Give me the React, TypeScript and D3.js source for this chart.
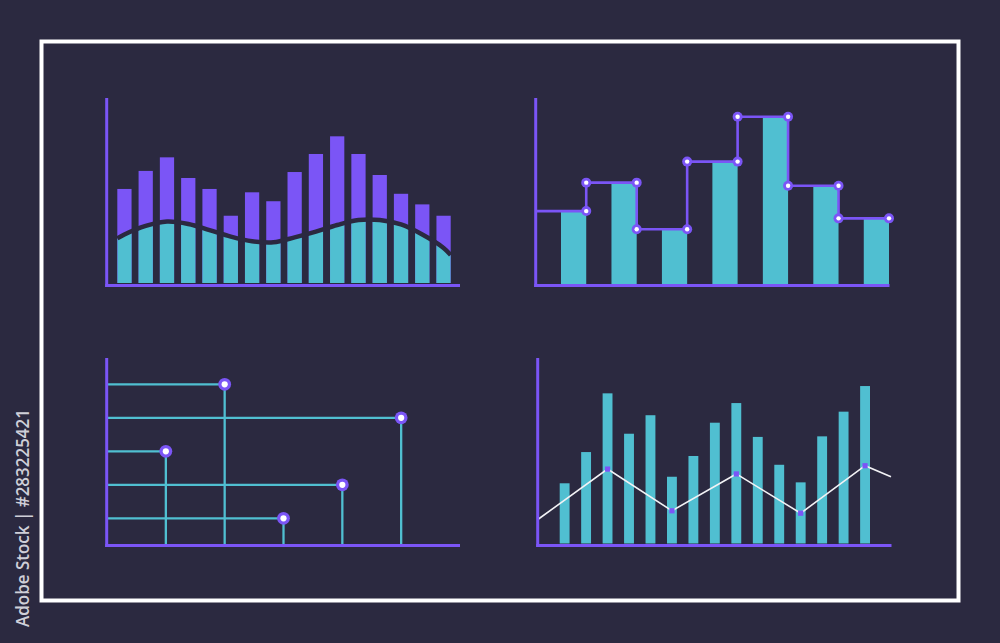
import React from 'react';
import * as d3 from 'd3';

const BG = '#2b2940';
const PURPLE = '#7b55f6';
const CYAN = '#50bfd1';

// Chart 1: bars with wave
const c1Bars = [51.1, 60.8, 68.1, 57, 51.1, 36.7, 49.3, 44.5, 60.2, 69.9, 79.4, 69.9, 58.6, 48.5, 42.8, 36.7];
const c1Wave = [26.6, 31.2, 33.6, 32.3, 29.0, 25.5, 23.0, 22.4, 25.1, 28.2, 31.7, 34.4, 34.4, 32.0, 26.6, 19.4];
const c1WaveStart = 24.5;
const c1WaveEnd = 15.6;

// Chart 2: step bars
const c2Bars = [39.2, 54.5, 29.4, 65.8, 89.9, 52.8, 35.3];

// Chart 3: lollipop grid
const c3Rows = [5, 4, 3, 2, 1];
const c3Vals = [2, 5, 1, 4, 3];

// Chart 4: bars with zigzag
const c4Bars = [33.0, 49.7, 81.1, 59.5, 69.4, 36.5, 47.6, 65.4, 75.9, 57.8, 42.9, 33.5, 58.1, 71.3, 85.0];
const c4LineStart = 13.9;
const c4LineVals = [40.6, 18.3, 38.0, 17.0, 42.4];
const c4LineBars = [2, 5, 8, 11, 14];
const c4LineEnd = 36.5;

function Axes({ x, yTop, yBase, xEnd }: { x: number; yTop: number; yBase: number; xEnd: number }) {
  return (
    <g stroke={PURPLE} strokeWidth={3} fill="none">
      <line x1={x} y1={yTop} x2={x} y2={yBase + 1.5} />
      <line x1={x - 1.5} y1={yBase} x2={xEnd} y2={yBase} />
    </g>
  );
}

function Chart1() {
  const idx = c1Bars.map((_, i) => i);
  const x = d3.scaleBand<number>().domain(idx).range([117.3, 450.7]).paddingInner(0.33).paddingOuter(0);
  const y = d3.scaleLinear().domain([0, 100]).range([284, 98]);
  const pts: [number, number][] = [
    [x(0)!, c1WaveStart],
    ...c1Wave.map((v, i) => [x(i)! + x.bandwidth() / 2, v] as [number, number]),
    [x(idx.length - 1)! + x.bandwidth(), c1WaveEnd],
  ];
  const curve = d3.curveCatmullRom.alpha(0.5);
  const line = d3.line<[number, number]>().x(d => d[0]).y(d => y(d[1])).curve(curve);
  const area = d3.area<[number, number]>().x(d => d[0]).y0(y(0)).y1(d => y(d[1])).curve(curve);
  return (
    <g>
      <defs>
        <clipPath id="c1clip">
          <path d={area(pts) || ''} />
        </clipPath>
      </defs>
      {c1Bars.map((v, i) => (
        <rect key={'p' + i} x={x(i)} y={y(v)} width={x.bandwidth()} height={y(0) - 1 - y(v)} fill={PURPLE} />
      ))}
      <g clipPath="url(#c1clip)">
        {c1Bars.map((v, i) => (
          <rect key={'c' + i} x={x(i)} y={y(v)} width={x.bandwidth()} height={y(0) - 1 - y(v)} fill={CYAN} />
        ))}
      </g>
      <path d={line(pts) || ''} fill="none" stroke={BG} strokeWidth={4.5} />
      <Axes x={106.7} yTop={98} yBase={285.5} xEnd={460} />
    </g>
  );
}

function Chart2() {
  const idx = c2Bars.map((_, i) => i);
  const x = d3.scaleBand<number>().domain(idx).range([561, 889]).paddingInner(0.5).paddingOuter(0);
  const y = d3.scaleLinear().domain([0, 100]).range([284, 98]);
  const gap = x.step() - x.bandwidth();
  const right = (i: number) => x(i)! + x.bandwidth();
  let d = '';
  c2Bars.forEach((v, i) => {
    const sx = i === 0 ? x(0)! - gap : right(i - 1);
    d += (i === 0 ? 'M' : 'L') + sx + ',' + y(v) + 'L' + right(i) + ',' + y(v);
  });
  const dots: [number, number][] = [];
  c2Bars.forEach((v, i) => {
    if (i > 0) dots.push([right(i - 1), y(v)]);
    dots.push([right(i), y(v)]);
  });
  return (
    <g>
      {c2Bars.map((v, i) => (
        <rect key={i} x={x(i)} y={y(v)} width={x.bandwidth()} height={y(0) - y(v)} fill={CYAN} />
      ))}
      <path d={d} fill="none" stroke={PURPLE} strokeWidth={2.6} />
      <Axes x={535.7} yTop={98} yBase={285.5} xEnd={889.5} />
      {dots.map((p, i) => (
        <g key={i}>
          <circle cx={p[0]} cy={p[1]} r={5} fill={PURPLE} />
          <circle cx={p[0]} cy={p[1]} r={2.2} fill="#ffffff" />
        </g>
      ))}
    </g>
  );
}

function Chart3() {
  const x = d3.scaleLinear().domain([0, 6]).range([107, 460]);
  const y = d3.scaleLinear().domain([1, 5]).range([518.3, 384.3]);
  const base = 545;
  return (
    <g>
      <g stroke={CYAN} strokeWidth={2.3}>
        {c3Rows.map((r, i) => (
          <line key={'h' + i} x1={x(0)} y1={y(r)} x2={x(c3Vals[i])} y2={y(r)} />
        ))}
        {c3Rows.map((r, i) => (
          <line key={'v' + i} x1={x(c3Vals[i])} y1={y(r)} x2={x(c3Vals[i])} y2={base} />
        ))}
      </g>
      <Axes x={106.7} yTop={358} yBase={545.5} xEnd={460} />
      {c3Rows.map((r, i) => (
        <g key={'c' + i}>
          <circle cx={x(c3Vals[i])} cy={y(r)} r={6.4} fill={PURPLE} />
          <circle cx={x(c3Vals[i])} cy={y(r)} r={3.1} fill="#ffffff" />
        </g>
      ))}
    </g>
  );
}

function Chart4() {
  const idx = c4Bars.map((_, i) => i);
  const x = d3.scaleBand<number>().domain(idx).range([559.7, 870]).paddingInner(0.54).paddingOuter(0);
  const y = d3.scaleLinear().domain([0, 100]).range([545, 358]);
  const pts: [number, number][] = [
    [538.5, c4LineStart],
    ...c4LineVals.map((v, i) => [x(c4LineBars[i])! + x.bandwidth() / 2, v] as [number, number]),
    [891, c4LineEnd],
  ];
  const line = d3.line<[number, number]>().x(d => d[0]).y(d => y(d[1]));
  return (
    <g>
      {c4Bars.map((v, i) => (
        <rect key={i} x={x(i)} y={y(v)} width={x.bandwidth()} height={y(0) - 1.5 - y(v)} fill={CYAN} />
      ))}
      <path d={line(pts) || ''} fill="none" stroke="#f2f2f5" strokeWidth={1.6} />
      {pts.slice(1, -1).map((p, i) => (
        <rect key={'m' + i} x={p[0] - 2.6} y={y(p[1]) - 2.6} width={5.2} height={5.2} fill={PURPLE} />
      ))}
      <Axes x={537.7} yTop={358} yBase={545.5} xEnd={891.5} />
    </g>
  );
}

export default function App() {
  return (
    <svg
      width={1000}
      height={643}
      viewBox="0 0 1000 643"
      style={{ position: 'absolute', left: 0, top: 0, display: 'block' }}
    >
      <rect x={0} y={0} width={1000} height={643} fill={BG} />
      <rect x={41.5} y={41.5} width={917} height={559} fill="none" stroke="#ffffff" strokeWidth={4} />
      <Chart1 />
      <Chart2 />
      <Chart3 />
      <Chart4 />
      <text
        transform="translate(29,627) rotate(-90)"
        fontFamily="'Open Sans', 'Noto Sans', sans-serif"
        fontSize={18}
        fontWeight={600}
        fill="#cfcfd8"
        textLength={218}
        lengthAdjust="spacingAndGlyphs"
      >
        Adobe Stock | #283225421
      </text>
    </svg>
  );
}
